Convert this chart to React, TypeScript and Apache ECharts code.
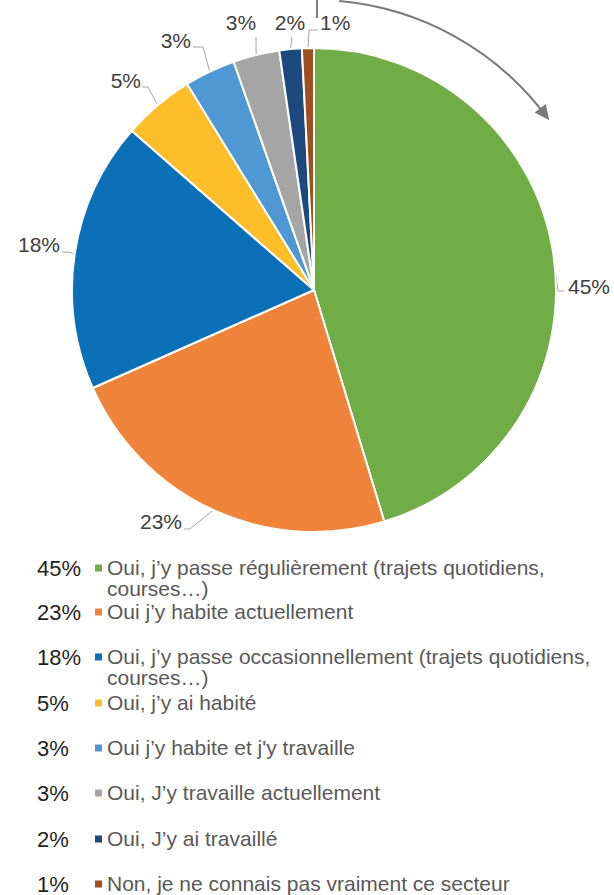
import React, { useEffect, useRef } from "react";
import * as echarts from "echarts";

const categories = [
  "Oui, j’y passe régulièrement (trajets quotidiens, courses…)",
  "Oui j’y habite actuellement",
  "Oui, j’y passe occasionnellement (trajets quotidiens, courses…)",
  "Oui, j’y ai habité",
  "Oui j’y habite et j'y travaille",
  "Oui, J’y travaille actuellement",
  "Oui, J’y ai travaillé",
  "Non, je ne connais pas vraiment ce secteur",
];
const values = [45.4, 23.1, 18.1, 4.8, 3.4, 3.1, 1.5, 0.8];
const colors = ["#70AD47", "#F0833A", "#0B70B8", "#FEBE2A", "#5098D3", "#A5A5A5", "#1C4A7E", "#A0501E"];

// label layout (text anchor x, y, align; elbow and end of leader line)
const labelPlacement: { x: number; y: number; align: string; elbow: number[]; end: number[] }[] = [
  { x: 568, y: 286, align: "left", elbow: [558, 291], end: [564, 291] },
  { x: 182, y: 521, align: "right", elbow: [190, 529], end: [184, 529] },
  { x: 60, y: 244, align: "right", elbow: [68, 252], end: [62, 252] },
  { x: 141, y: 80, align: "right", elbow: [148, 87], end: [142, 87] },
  { x: 191, y: 40, align: "right", elbow: [203, 47], end: [193, 47] },
  { x: 241, y: 22, align: "center", elbow: [256, 37], end: [256, 37] },
  { x: 290, y: 22, align: "center", elbow: [292, 37], end: [292, 37] },
  { x: 320, y: 22, align: "left", elbow: [309, 30], end: [318, 30] },
];
const legendRowY = [568, 612, 657, 703, 748, 793, 839, 884];

const pct = (v: number) => Math.round(v) + "%";

const LEGEND_FONT = "21px 'Liberation Sans', Arial, sans-serif";

function wrapText(text: string, font: string, maxWidth: number): string {
  const ctx = document.createElement("canvas").getContext("2d");
  if (!ctx) return text;
  ctx.font = font;
  const words = text.split(" ");
  const lines: string[] = [];
  let cur = "";
  for (const w of words) {
    const test = cur ? cur + " " + w : w;
    if (cur && ctx.measureText(test).width > maxWidth) {
      lines.push(cur);
      cur = w;
    } else {
      cur = test;
    }
  }
  if (cur) lines.push(cur);
  return lines.join("\n");
}

export default function App() {
  const ref = useRef<HTMLDivElement>(null);
  useEffect(() => {
    if (!ref.current) return;
    const chart = echarts.init(ref.current, null, { renderer: "svg" });
    const cx = 314, cy = 290;
    const arcR = 290;
    const a0 = (-85 * Math.PI) / 180;
    const a1 = (-37 * Math.PI) / 180;
    const ex = cx + arcR * Math.cos(a1), ey = cy + arcR * Math.sin(a1);
    const tx = -Math.sin(a1), ty = Math.cos(a1);
    const nx = Math.cos(a1), ny = Math.sin(a1);
    const tip = [ex + tx * 6, ey + ty * 6];
    const back = [ex - tx * 9, ey - ty * 9];
    const arrowHead = [
      tip,
      [back[0] + nx * 7, back[1] + ny * 7],
      [back[0] - nx * 7, back[1] - ny * 7],
    ];

    const graphics: any[] = [
      {
        type: "arc",
        shape: { cx, cy, r: arcR, startAngle: a0, endAngle: a1, clockwise: true },
        style: { stroke: "#7A7A7A", lineWidth: 2, fill: null },
        silent: true,
      },
      {
        type: "line",
        shape: { x1: 317, y1: 0, x2: 317, y2: 18 },
        style: { stroke: "#7A7A7A", lineWidth: 2 },
      },
      {
        type: "polygon",
        shape: { points: arrowHead },
        style: { fill: "#7A7A7A" },
      },
    ];
    categories.forEach((name, i) => {
      const y = legendRowY[i];
      graphics.push({
        type: "text",
        x: 37,
        y,
        style: {
          text: pct(values[i]),
          font: "22px 'Liberation Sans', Arial, sans-serif",
          fill: "#1F1F1F",
          verticalAlign: "middle",
          align: "left",
        },
      });
      graphics.push({
        type: "rect",
        shape: { x: 95, y: y - 3.5, width: 7, height: 7 },
        style: { fill: colors[i] },
      });
      graphics.push({
        type: "text",
        x: 107,
        y: y - 11,
        style: {
          text: wrapText(name, LEGEND_FONT, 500),
          font: LEGEND_FONT,
          fill: "#595959",
          verticalAlign: "top",
          align: "left",
          lineHeight: 21,
        },
      });
    });

    chart.setOption({
      animation: false,
      backgroundColor: "#ffffff",
      series: [
        {
          type: "pie",
          center: [cx, cy],
          radius: 242,
          startAngle: 90,
          clockwise: true,
          avoidLabelOverlap: false,
          data: categories.map((name, i) => ({ name, value: values[i], itemStyle: { color: colors[i] } })),
          itemStyle: { borderColor: "#ffffff", borderWidth: 2 },
          label: {
            show: true,
            position: "outside",
            formatter: (p: any) => pct(p.value),
            fontFamily: "'Liberation Sans', Arial, sans-serif",
            fontSize: 21,
            color: "#404040",
          },
          labelLine: { show: true, length: 8, length2: 6, lineStyle: { color: "#A6A6A6", width: 1 } },
          labelLayout: (params: any) => {
            const lp = labelPlacement[params.dataIndex];
            const p0 = params.labelLinePoints ? params.labelLinePoints[0] : lp.elbow;
            return {
              x: lp.x,
              y: lp.y,
              align: lp.align,
              verticalAlign: "middle",
              labelLinePoints: [p0, lp.elbow, lp.end],
            };
          },
          emphasis: { disabled: true },
        },
      ],
      graphic: graphics,
    });
    return () => chart.dispose();
  }, []);
  return <div ref={ref} style={{ position: "absolute", left: 0, top: 0, width: 614, height: 895 }} />;
}
